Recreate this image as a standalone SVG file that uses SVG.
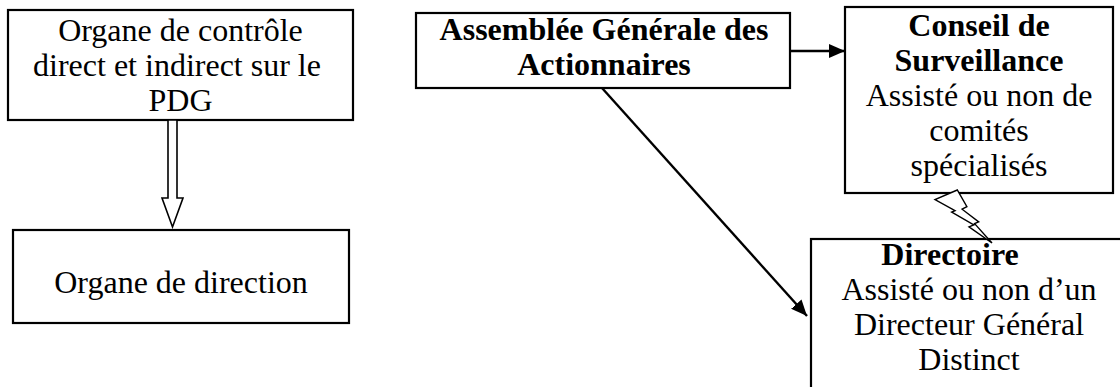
<svg xmlns="http://www.w3.org/2000/svg" width="1120" height="387" viewBox="0 0 1120 387">
<defs>
<style>
.box{fill:#fff;stroke:#000;stroke-width:2.2}
.t{font-family:"Liberation Serif","Times New Roman",serif;font-size:32px;fill:#000;text-anchor:middle}
.b{font-weight:bold}
.ln{fill:none;stroke:#000;stroke-width:2.4}
.hollow{fill:#fff;stroke:#000;stroke-width:1.6;stroke-linejoin:miter}
.bolt{fill:#fff;stroke:#000;stroke-width:1.4;stroke-linejoin:miter}
</style>
<marker id="ah" markerWidth="17" markerHeight="14" refX="16" refY="7" orient="auto" markerUnits="userSpaceOnUse">
<path d="M0,0 L16,7 L0,14 z" fill="#000"/>
</marker>
</defs>

<g id="controle">
<rect class="box" x="8" y="10" width="345" height="110"/>
<text class="t" x="180.5" y="41">Organe de contrôle</text>
<text class="t" x="177" y="76">direct et indirect sur le</text>
<text class="t" x="180.5" y="111">PDG</text>
</g>

<g id="direction">
<rect class="box" x="13" y="230" width="336" height="93"/>
<text class="t" x="181" y="293">Organe de direction</text>
</g>

<g id="assemblee">
<rect class="box" x="416" y="13" width="374" height="75"/>
<text class="t b" x="604" y="40">Assemblée Générale des</text>
<text class="t b" x="604" y="75">Actionnaires</text>
</g>

<g id="conseil">
<rect class="box" x="845" y="7" width="268" height="186"/>
<text class="t b" x="979" y="36">Conseil de</text>
<text class="t b" x="979" y="71">Surveillance</text>
<text class="t" x="979" y="106">Assisté ou non de</text>
<text class="t" x="979" y="141">comités</text>
<text class="t" x="979" y="176">spécialisés</text>
</g>

<g id="directoire">
<rect class="box" x="811" y="239" width="330" height="170"/>
<text class="t b" x="950" y="265">Directoire</text>
<text class="t" x="969" y="300">Assisté ou non d’un</text>
<text class="t" x="969" y="335">Directeur Général</text>
<text class="t" x="969" y="370">Distinct</text>
</g>

<g id="connectors">
<polygon class="hollow" points="168,120 177,120 177,198 183,198 172.5,227 162,198 168,198"/>
<line class="ln" x1="791" y1="51" x2="845" y2="51" marker-end="url(#ah)"/>
<line class="ln" x1="602" y1="88" x2="807" y2="316" stroke-width="2" marker-end="url(#ah)"/>
<polygon class="bolt" points="957.3,190 935,199.6 955,210.7 951.7,212 973.8,224.9 969,226.9 992,243 974.6,223.6 978.7,221.9 962.1,209.2 966.9,206.7"/>
</g>
</svg>
